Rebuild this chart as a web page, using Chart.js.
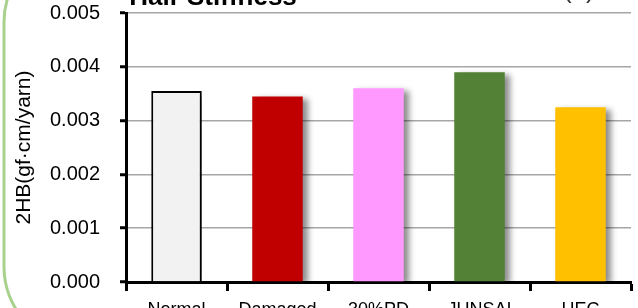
<!DOCTYPE html>
<html>
<head>
<meta charset="utf-8">
<script src="https://cdn.jsdelivr.net/npm/chart.js@4"></script>
<style>
html,body{margin:0;padding:0;background:#fff;}
#wrap{width:638px;height:308px;position:relative;}
</style>
</head>
<body>
<div id="wrap"><canvas id="c" width="638" height="308"></canvas></div>
<script>
const categories = ["Normal", "Damaged", "30%PD", "JUNSAI", "HEC"];
const values = [0.00355, 0.00345, 0.0036, 0.0039, 0.00325];
const barColors = ["#f2f2f2", "#c00000", "#ff99ff", "#538135", "#ffc000"];
const borderColors = ["#000000", "#c00000", "#ff99ff", "#538135", "#ffc000"];
const borderWidths = [2, 0, 0, 0, 0];
const yTicks = [0, 0.001, 0.002, 0.003, 0.004, 0.005];
const titleText = "Hair Stiffness";
const cornerText = "(a)";
const yTitle = "2HB(gf\u00b7cm/yarn)";

const decor = {
  id: 'decor',
  beforeDraw(chart) {
    const ctx = chart.ctx;
    ctx.save();
    ctx.strokeStyle = '#a9d18e';
    ctx.lineWidth = 3;
    ctx.beginPath();
    ctx.roundRect(4, -58, 900, 405, 80);
    ctx.stroke();
    ctx.restore();
  },
  afterDraw(chart) {
    const ctx = chart.ctx;
    ctx.save();
    ctx.fillStyle = '#000';
    ctx.font = 'bold 26px "Liberation Sans", Arial, sans-serif';
    ctx.textAlign = 'center';
    ctx.textBaseline = 'alphabetic';
    ctx.fillText(titleText, 213, 5);
    ctx.font = '26px "Liberation Sans", Arial, sans-serif';
    ctx.textAlign = 'left';
    ctx.fillStyle = '#333';
    ctx.fillText(cornerText, 563, -2);
    ctx.restore();
  },
  beforeDatasetsDraw(chart) {
    const ctx = chart.ctx;
    ctx.save();
    ctx.shadowColor = 'rgba(0,0,0,0.45)';
    ctx.shadowBlur = 6;
    ctx.shadowOffsetX = 5;
    ctx.shadowOffsetY = 3;
  },
  afterDatasetsDraw(chart) {
    chart.ctx.restore();
  }
};

new Chart(document.getElementById('c'), {
  type: 'bar',
  data: {
    labels: categories,
    datasets: [{
      data: values,
      backgroundColor: barColors,
      borderColor: borderColors,
      borderWidth: borderWidths,
      borderSkipped: 'bottom',
      barPercentage: 0.5,
      categoryPercentage: 1.0
    }]
  },
  options: {
    responsive: false,
    animation: false,
    devicePixelRatio: 1,
    layout: { padding: { left: 0, right: 7, top: 13, bottom: 0 } },
    plugins: { legend: { display: false }, tooltip: { enabled: false }, title: { display: false } },
    scales: {
      x: {
        grid: { offset: true, drawOnChartArea: false, drawTicks: true, tickLength: 9, tickColor: '#000', tickWidth: 3 },
        border: { color: '#000', width: 3 },
        ticks: { color: '#000', font: { family: '"Liberation Sans", Arial, sans-serif', size: 18 }, padding: 8, maxRotation: 0, autoSkip: false },
        afterFit(s) { s.height = 26; s.paddingLeft = 0; s.paddingRight = 0; }
      },
      y: {
        min: 0, max: 0.005,
        afterBuildTicks(s) { s.ticks = yTicks.map(v => ({ value: v })); },
        grid: { color: '#a6a6a6', lineWidth: 1.5, tickLength: 6, tickColor: '#000', tickWidth: 3 },
        border: { color: '#000', width: 3 },
        ticks: { color: '#000', font: { family: '"Liberation Sans", Arial, sans-serif', size: 20 }, padding: 20,
          callback: v => Number(v).toFixed(3) },
        title: { display: true, text: yTitle, color: '#000', font: { family: '"Liberation Sans", Arial, sans-serif', size: 21 }, padding: { top: 12, bottom: 0 } },
        afterFit(s) { s.width = 126; s.paddingTop = 0; s.paddingBottom = 0; }
      }
    }
  },
  plugins: [decor]
});
</script>
</body>
</html>
